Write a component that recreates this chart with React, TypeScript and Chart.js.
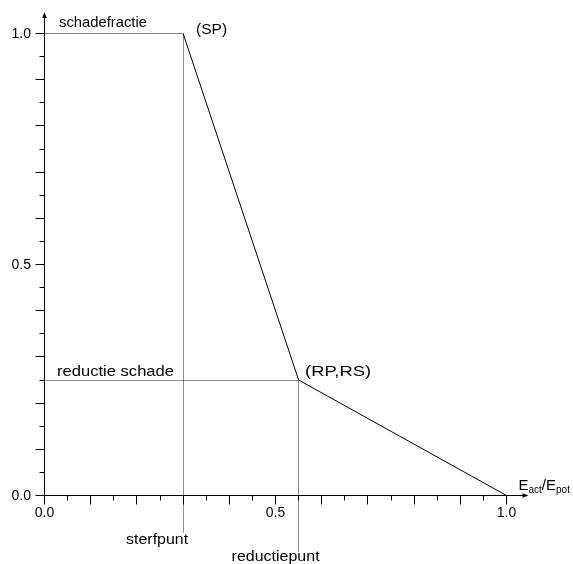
import React, { useEffect, useRef } from 'react';
import { Chart, registerables } from 'chart.js';

Chart.register(...registerables);

// Data: damage fraction as a function of E_act/E_pot
const ratio = [0.0, 0.3, 0.55, 1.0];
const damageFraction = [1.0, 1.0, 0.25, 0.0];

// Characteristic points
const sterfpunt = 0.3; // SP
const reductiepunt = 0.55; // RP
const reductieSchade = 0.25; // RS

// Axis ticks
const xTickValues = [0.0, 0.5, 1.0];
const xTickLabels = ['0.0', '0.5', '1.0'];
const yTickValues = [0.0, 0.5, 1.0];
const yTickLabels = ['0.0', '0.5', '1.0'];
const minorStep = 0.05;

// Texts
const yTitle = 'schadefractie';
const spLabel = '(SP)';
const rpLabel = '(RP,RS)';
const rsLabel = 'reductie schade';
const sterfLabel = 'sterfpunt';
const reductieLabel = 'reductiepunt';

const FONT = '"Liberation Sans", Arial, Helvetica, sans-serif';

const crisp = (v: number) => Math.floor(v) + 0.5;

function drawFitted(ctx: CanvasRenderingContext2D, text: string, x: number, y: number, width: number) {
  const w = ctx.measureText(text).width;
  ctx.save();
  ctx.translate(x, y);
  ctx.scale(width / w, 1);
  ctx.textAlign = 'left';
  ctx.fillText(text, 0, 0);
  ctx.restore();
}

const axesPlugin = {
  id: 'customAxes',
  beforeDatasetsDraw(chart: any) {
    const ctx = chart.ctx as CanvasRenderingContext2D;
    const xs = chart.scales.x;
    const ys = chart.scales.y;
    const x0 = xs.getPixelForValue(0);
    const y0 = ys.getPixelForValue(0);
    const y1 = ys.getPixelForValue(1);
    const xSP = crisp(xs.getPixelForValue(sterfpunt));
    const xRP = crisp(xs.getPixelForValue(reductiepunt));
    const yRS = crisp(ys.getPixelForValue(reductieSchade));
    ctx.save();
    ctx.strokeStyle = '#222';
    ctx.lineWidth = 1;
    ctx.setLineDash([1, 1]);
    ctx.beginPath();
    ctx.moveTo(xSP, y1);
    ctx.lineTo(xSP, y0 + 37);
    ctx.moveTo(xRP, yRS);
    ctx.lineTo(xRP, y0 + 56);
    ctx.moveTo(x0, yRS);
    ctx.lineTo(xRP, yRS);
    ctx.stroke();
    ctx.restore();
  },
  afterDatasetsDraw(chart: any) {
    const ctx = chart.ctx as CanvasRenderingContext2D;
    const xs = chart.scales.x;
    const ys = chart.scales.y;
    const x0 = xs.getPixelForValue(0);
    const x1 = xs.getPixelForValue(1);
    const y0 = ys.getPixelForValue(0);
    const y1 = ys.getPixelForValue(1);
    ctx.save();
    ctx.strokeStyle = '#000';
    ctx.fillStyle = '#000';
    ctx.lineWidth = 1;
    ctx.setLineDash([]);
    // axis lines
    const yTip = y1 - 21.5;
    const xTip = x1 + 22;
    ctx.beginPath();
    ctx.moveTo(x0, y0);
    ctx.lineTo(x0, yTip + 4);
    ctx.moveTo(x0, y0);
    ctx.lineTo(xTip - 4, y0);
    ctx.stroke();
    // arrows
    ctx.beginPath();
    ctx.moveTo(x0, yTip);
    ctx.lineTo(x0 - 2.2, yTip + 6);
    ctx.lineTo(x0 + 2.2, yTip + 6);
    ctx.closePath();
    ctx.fill();
    ctx.beginPath();
    ctx.moveTo(xTip, y0);
    ctx.lineTo(xTip - 6, y0 - 2.2);
    ctx.lineTo(xTip - 6, y0 + 2.2);
    ctx.closePath();
    ctx.fill();
    // ticks
    const n = Math.round(1 / minorStep);
    ctx.beginPath();
    for (let i = 0; i <= n; i++) {
      const v = i * minorStep;
      const len = i % 2 === 0 ? 9 : 5;
      const px = crisp(xs.getPixelForValue(v));
      ctx.moveTo(px, y0);
      ctx.lineTo(px, y0 + len);
      const py = crisp(ys.getPixelForValue(v));
      ctx.moveTo(x0, py);
      ctx.lineTo(x0 - len, py);
    }
    ctx.stroke();
    // tick labels
    ctx.font = `14px ${FONT}`;
    ctx.textAlign = 'right';
    ctx.textBaseline = 'middle';
    yTickValues.forEach((v, i) => {
      ctx.fillText(yTickLabels[i], x0 - 13.5, ys.getPixelForValue(v) + 1);
    });
    ctx.textAlign = 'center';
    ctx.textBaseline = 'alphabetic';
    xTickValues.forEach((v, i) => {
      ctx.fillText(xTickLabels[i], xs.getPixelForValue(v), y0 + 21);
    });
    // annotations
    const xSP = xs.getPixelForValue(sterfpunt);
    const xRP = xs.getPixelForValue(reductiepunt);
    const yRS = ys.getPixelForValue(reductieSchade);
    ctx.font = `15px ${FONT}`;
    ctx.textAlign = 'left';
    drawFitted(ctx, yTitle, x0 + 14.5, y1 - 6.5, 88);
    drawFitted(ctx, spLabel, xSP + 13, y1 + 0.5, 31);
    drawFitted(ctx, rsLabel, x0 + 12.5, yRS - 4, 117);
    drawFitted(ctx, rpLabel, xRP + 6.5, yRS - 4, 66);
    drawFitted(ctx, sterfLabel, xSP - 57, y0 + 48.5, 62);
    drawFitted(ctx, reductieLabel, xRP - 67, y0 + 65.5, 88);
    // x-axis title E_act/E_pot
    let tx = x1 + 12;
    const ty = y0 - 5.5;
    ctx.font = `15px ${FONT}`;
    ctx.fillText('E', tx, ty);
    tx += ctx.measureText('E').width;
    ctx.font = `10px ${FONT}`;
    ctx.fillText('act', tx, ty + 3);
    tx += ctx.measureText('act').width;
    ctx.font = `15px ${FONT}`;
    ctx.fillText('/E', tx, ty);
    tx += ctx.measureText('/E').width;
    ctx.font = `10px ${FONT}`;
    ctx.fillText('pot', tx, ty + 3);
    ctx.restore();
  },
};

export default function App() {
  const ref = useRef<HTMLCanvasElement>(null);
  useEffect(() => {
    document.body.style.margin = '0';
    const canvas = ref.current!;
    const chart = new Chart(canvas, {
      type: 'scatter',
      data: {
        datasets: [
          {
            label: 'schadefractie',
            data: ratio.map((x, i) => ({ x, y: damageFraction[i] })),
            showLine: true,
            borderColor: '#000',
            borderWidth: 1,
            pointRadius: 0,
            tension: 0,
            fill: false,
          },
        ],
      },
      options: {
        animation: false,
        responsive: false,
        devicePixelRatio: 1,
        layout: { padding: { left: 44.5, top: 33.5, right: 66.5, bottom: 68.5 } },
        plugins: { legend: { display: false }, tooltip: { enabled: false } },
        scales: {
          x: { type: 'linear', min: 0, max: 1, display: false },
          y: { type: 'linear', min: 0, max: 1, display: false },
        },
      },
      plugins: [axesPlugin],
    });
    return () => chart.destroy();
  }, []);
  return (
    <div style={{ width: 573, height: 564, background: '#fff' }}>
      <canvas ref={ref} width={573} height={564} style={{ display: 'block' }} />
    </div>
  );
}
